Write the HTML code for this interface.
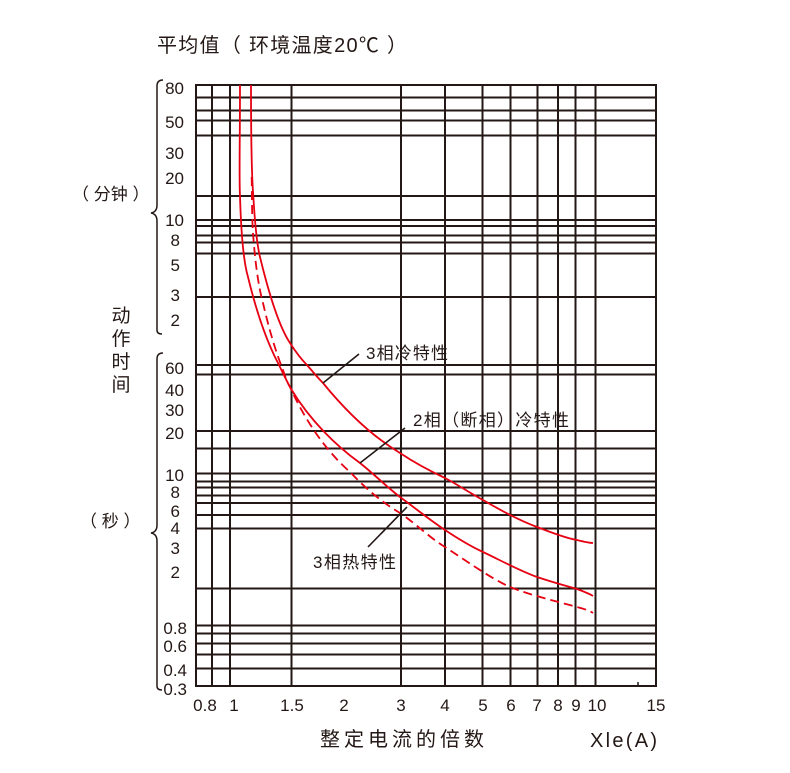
<!DOCTYPE html>
<html><head><meta charset="utf-8"><style>
html,body{margin:0;padding:0;background:#fff;width:790px;height:773px;overflow:hidden}
svg text{font-family:"Liberation Sans","Noto Sans CJK SC",sans-serif;fill:#231815}
</style></head><body>
<svg width="790" height="773" viewBox="0 0 790 773" xmlns="http://www.w3.org/2000/svg">
<g stroke="#231815" stroke-width="2" fill="none">
<rect x="196" y="85" width="460" height="601"/>
<path d="M212 85V686M230 85V686M291.5 85V686M401 85V686M445 85V686M482.5 85V686M510.5 85V686M537.5 85V686M558 85V686M575.5 85V686M595.5 85V686"/>
<path d="M196 97.5H656M196 110.5H656M196 120.5H656M196 135.5H656M196 196H656M196 220H656M196 226H656M196 235.5H656M196 242.5H656M196 253.5H656M196 297H656M196 365H656M196 374.5H656M196 431H656M196 448.5H656M196 473.5H656M196 481.5H656M196 487.5H656M196 495.5H656M196 503H656M196 515H656M196 528.5H656M196 588.5H656M196 625.5H656M196 633.5H656M196 643.5H656M196 654.5H656M196 668.5H656"/>
<path d="M638 682V686" stroke-width="1.5"/>
</g>
<g stroke="#e60012" stroke-width="1.8" fill="none">
<path d="M251 85 C251 140 252 180 253.3 196 C255 225 257 245 260 257 C268 290 278 325 290 343 C297 354 302 360 307 365 C313 372 318 378 323 383 C345 410 370 435 400 453 C415 463 430 471 445 478 C460 486 470 493 483 500 C500 510 518 520 537 527 C555 534 570 539 577 540 C585 542 590 543 593 543"/>
<path d="M240 85 C240 140 239 180 240 196 C241 230 243 260 248 277 C256 310 266 340 278 363 C283 373 287 382 291.7 390 C310 420 335 445 360 463 C375 475 388 488 400 497 C415 508 430 520 445 530 C460 540 470 546 483 552 C500 560 518 570 537 577 C555 583 570 587 577 589 C585 592 590 594 593 596"/>
<path d="M251.7 177 C252 200 252 220 253 233 C255 260 258 285 263 303 C268 325 275 350 283 370 C285 376 287 382 290 387 C305 420 325 450 350 472 C365 488 383 503 400 513 C415 523 430 538 445 547 C465 560 490 578 510 587 C530 595 555 601 577 607 C585 609 590 611 593 613" stroke-dasharray="9,5"/>
</g>
<g stroke="#231815" stroke-width="1.6">
<path d="M323 383L359 354M360 463L405 428M368 547L407 507"/>
</g>
<g font-size="17" text-anchor="end">
<text x="184" y="94">80</text><text x="184" y="128">50</text><text x="184" y="159">30</text><text x="184" y="184">20</text>
<text x="184" y="226">10</text><text x="180" y="246">8</text><text x="180" y="271">5</text><text x="180" y="301">3</text><text x="180" y="326">2</text>
<text x="184" y="374">60</text><text x="184" y="396">40</text><text x="184" y="416">30</text><text x="184" y="439">20</text>
<text x="184" y="481">10</text><text x="180" y="498">8</text><text x="180" y="517">6</text><text x="180" y="534">4</text><text x="180" y="554">3</text><text x="180" y="578">2</text>
<text x="187" y="634">0.8</text><text x="187" y="652">0.6</text><text x="187" y="676">0.4</text><text x="187" y="695">0.3</text>
</g>
<g font-size="17" text-anchor="middle">
<text x="205" y="711">0.8</text><text x="234" y="711">1</text><text x="292" y="711">1.5</text><text x="344" y="711">2</text><text x="401" y="711">3</text><text x="445" y="711">4</text><text x="483" y="711">5</text><text x="511" y="711">6</text><text x="537" y="711">7</text><text x="558" y="711">8</text><text x="576" y="711">9</text><text x="597" y="711">10</text><text x="656" y="711">15</text>
</g>
<text x="157" y="52" font-size="20" textLength="250" lengthAdjust="spacing">平均值（ 环境温度20℃ ）</text>
<text x="72" y="200" font-size="17">（ 分钟 ）</text>
<text x="80" y="527" font-size="17">（ 秒 ）</text>
<g font-size="19" text-anchor="middle"><text x="121" y="322">动</text><text x="121" y="345">作</text><text x="121" y="368">时</text><text x="121" y="391">间</text></g>
<text x="320" y="746" font-size="20" textLength="164" lengthAdjust="spacing">整定电流的倍数</text>
<text x="590" y="747" font-size="20" textLength="67">Xle(A)</text>
<text x="366" y="359" font-size="17" textLength="82">3相冷特性</text>
<text x="413" y="426" font-size="17" textLength="156">2相（断相）冷特性</text>
<text x="313" y="568" font-size="17" textLength="83">3相热特性</text>
<g stroke="#231815" stroke-width="1.5" fill="none">
<path d="M163 80 Q157 80 157 86 V205 Q157 212 151 213 Q157 214 157 221 V330 Q157 334 162 334"/>
<path d="M163 353 Q157 353 157 359 V525 Q157 532 151 533 Q157 534 157 541 V686 Q157 690 162 690"/>
</g>
</svg>
</body></html>
